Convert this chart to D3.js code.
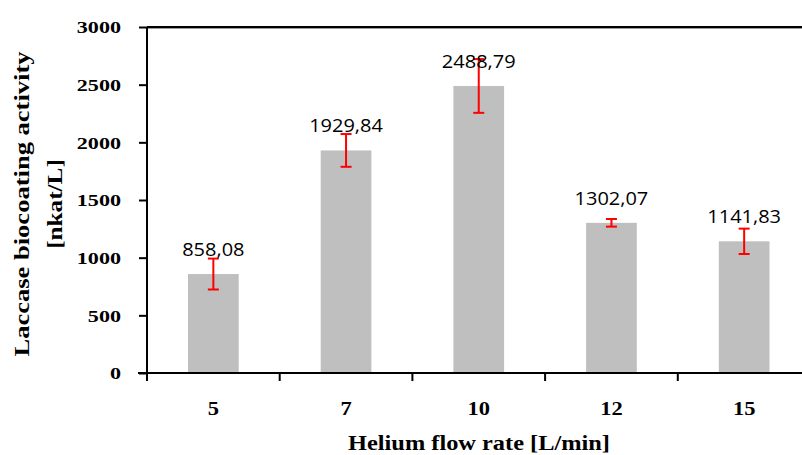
<!DOCTYPE html>
<html>
<head>
<meta charset="utf-8">
<script src="https://cdn.jsdelivr.net/npm/d3@7"></script>
<style>
  html, body { margin: 0; padding: 0; background: #fff; }
  svg { display: block; }
</style>
</head>
<body>
<svg id="chart" width="802" height="455"></svg>
<script>
const categories = ["5", "7", "10", "12", "15"];
const values = [858.08, 1929.84, 2488.79, 1302.07, 1141.83];
const errors = [134, 142, 233, 33, 110];
const valueLabels = ["858,08", "1929,84", "2488,79", "1302,07", "1141,83"];
const yTicks = [0, 500, 1000, 1500, 2000, 2500, 3000];

const svg = d3.select("#chart");
const serif = "'Liberation Serif', 'Times New Roman', serif";
const sans = "'Open Sans', 'Noto Sans', sans-serif";

// widen glyphs horizontally to mimic the wide serif of the original
function stretch(sel, k) {
  sel.each(function () {
    const w = this.getComputedTextLength();
    d3.select(this).attr("textLength", w * k).attr("lengthAdjust", "spacingAndGlyphs");
  });
}

const x = d3.scaleBand().domain(categories).range([147, 810.5]).paddingInner(0.618).paddingOuter(0.309);
const y = d3.scaleLinear().domain([0, 3000]).range([373, 27]);

// top border line
svg.append("line").attr("x1", 147).attr("x2", 802).attr("y1", 28.5).attr("y2", 28.5)
  .attr("stroke", "#9a9a9a").attr("stroke-width", 1);
svg.append("line").attr("x1", 147).attr("x2", 802).attr("y1", 27).attr("y2", 27)
  .attr("stroke", "#000").attr("stroke-width", 2);

// bars
svg.selectAll("rect.bar").data(values).enter().append("rect")
  .attr("class", "bar")
  .attr("x", (d, i) => x(categories[i]))
  .attr("width", x.bandwidth())
  .attr("y", d => y(d))
  .attr("height", d => y(0) - y(d))
  .attr("fill", "#BFBFBF");

// y axis
const yAxis = d3.axisLeft(y).tickValues(yTicks).tickSize(8).tickPadding(18).tickFormat(d3.format("d"));
const gy = svg.append("g").attr("transform", "translate(147,0)").call(yAxis);
gy.select(".domain").attr("stroke", "#000").attr("stroke-width", 2).attr("d", "M0,27V378");
gy.selectAll(".tick line").attr("stroke", "#000").attr("stroke-width", 2);
gy.selectAll(".tick text").attr("font-family", serif).attr("font-weight", "bold")
  .attr("font-size", "17px").attr("fill", "#000").attr("dy", "0.34em");
stretch(gy.selectAll(".tick text"), 1.3);

// x axis with boundary ticks
const gx = svg.append("g");
gx.append("line").attr("x1", 138).attr("x2", 802).attr("y1", 373).attr("y2", 373)
  .attr("stroke", "#000").attr("stroke-width", 2);
const bounds = categories.map(c => x(c) - x.step() * x.paddingInner() / 2);
gx.selectAll("line.xt").data(bounds).enter().append("line")
  .attr("class", "xt")
  .attr("x1", d => d).attr("x2", d => d).attr("y1", 373).attr("y2", 381)
  .attr("stroke", "#000").attr("stroke-width", 2);
const xl = gx.selectAll("text.xl").data(categories).enter().append("text")
  .attr("class", "xl")
  .attr("x", d => x(d) + x.bandwidth() / 2)
  .attr("y", 415)
  .attr("text-anchor", "middle")
  .attr("font-family", serif).attr("font-weight", "bold").attr("font-size", "18px")
  .text(d => d);
stretch(xl, 1.25);

// error bars
const eb = svg.selectAll("g.err").data(values).enter().append("g").attr("class", "err");
eb.append("line")
  .attr("x1", (d, i) => x(categories[i]) + x.bandwidth() / 2)
  .attr("x2", (d, i) => x(categories[i]) + x.bandwidth() / 2)
  .attr("y1", (d, i) => y(d + errors[i]))
  .attr("y2", (d, i) => y(d - errors[i]))
  .attr("stroke", "#FF0000").attr("stroke-width", 2);
[1, -1].forEach(s => {
  eb.append("line")
    .attr("x1", (d, i) => x(categories[i]) + x.bandwidth() / 2 - 5.5)
    .attr("x2", (d, i) => x(categories[i]) + x.bandwidth() / 2 + 5.5)
    .attr("y1", (d, i) => y(d + s * errors[i]))
    .attr("y2", (d, i) => y(d + s * errors[i]))
    .attr("stroke", "#FF0000").attr("stroke-width", 2);
});

// value labels
const vl = svg.selectAll("text.vl").data(values).enter().append("text")
  .attr("class", "vl")
  .attr("x", (d, i) => x(categories[i]) + x.bandwidth() / 2)
  .attr("y", d => y(d) - 18)
  .attr("text-anchor", "middle")
  .attr("font-family", sans).attr("font-size", "18.5px").attr("fill", "#000")
  .text((d, i) => valueLabels[i]);
stretch(vl, 1.08);

// axis titles
svg.append("text")
  .attr("x", 479).attr("y", 450)
  .attr("text-anchor", "middle")
  .attr("font-family", serif).attr("font-weight", "bold").attr("font-size", "21px")
  .attr("textLength", 262).attr("lengthAdjust", "spacingAndGlyphs")
  .text("Helium flow rate [L/min]");

const yt = svg.append("text")
  .attr("transform", "translate(0,204) rotate(-90)")
  .attr("text-anchor", "middle")
  .attr("font-family", serif).attr("font-weight", "bold").attr("font-size", "21px");
yt.append("tspan").attr("x", 0).attr("y", 29)
  .attr("textLength", 305).attr("lengthAdjust", "spacingAndGlyphs")
  .text("Laccase biocoating activity");
const t2 = yt.append("tspan").attr("x", 0).attr("y", 62).text("[nkat/L]");
stretch(t2, 1.2);
</script>
</body>
</html>
